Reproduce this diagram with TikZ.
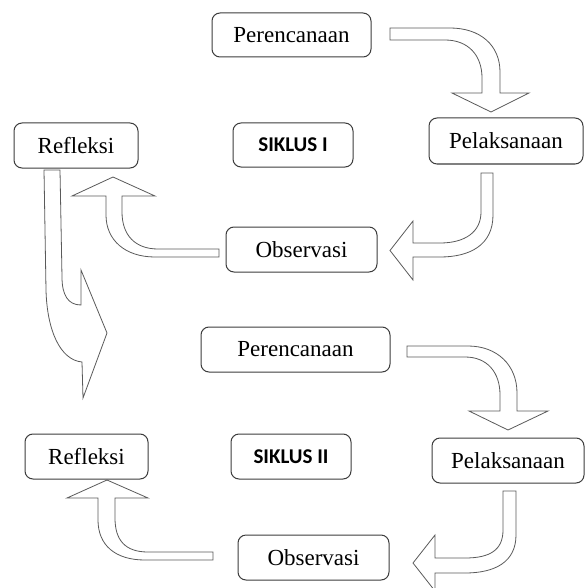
\documentclass[tikz,border=0pt]{standalone}
\usepackage{fontspec}
\setmainfont{Liberation Serif}
\newfontfamily\siklusfont{Carlito}
\definecolor{boxline}{HTML}{3C3C3C}
\definecolor{arrline}{HTML}{5A5A5A}
\begin{document}
\begin{tikzpicture}[x=1pt,y=-1pt,
  stage/.style={draw=boxline,line width=1pt,rounded corners=8pt,fill=white,
    inner sep=0pt,font=\fontsize{23}{27}\selectfont},
  cyc/.style={stage,font=\siklusfont\bfseries\fontsize{21}{25}\selectfont},
  blockarrow/.style={draw=arrline,line width=0.8pt,fill=white,line join=miter}]
\useasboundingbox (0,0) rectangle (587,588);
% ---- Siklus I ----
\node[stage,minimum width=159pt,minimum height=44pt] (p1) at (291.5,35) {Perencanaan};
\node[stage,minimum width=154pt,minimum height=46pt] (l1) at (506,141) {Pelaksanaan};
\node[cyc,minimum width=120pt,minimum height=44pt] (s1) at (293,145) {SIKLUS I};
\node[stage,minimum width=151pt,minimum height=45pt] (o1) at (301.5,249.5) {Observasi};
\node[stage,minimum width=124pt,minimum height=45pt] (r1) at (76,145.5) {Refleksi};
% ---- Siklus II ----
\node[stage,minimum width=189pt,minimum height=45pt] (p2) at (295.5,349.5) {Perencanaan};
\node[stage,minimum width=152pt,minimum height=45pt] (l2) at (508,460.5) {Pelaksanaan};
\node[cyc,minimum width=120pt,minimum height=45pt] (s2) at (291,456.5) {SIKLUS II};
\node[stage,minimum width=151pt,minimum height=45pt] (o2) at (313.5,557.5) {Observasi};
\node[stage,minimum width=123pt,minimum height=45pt] (r2) at (86.5,456.5) {Refleksi};
% ---- block arrows, cycle I ----
\draw[blockarrow] (390,28) -- (450,28) .. controls (480,28) and (500,45) .. (500,72)
  -- (500,93) -- (529,93) -- (491,112) -- (452,93) -- (482,93) -- (482,78)
  .. controls (482,55) and (468,40) .. (445,40) -- (390,40) -- cycle;
\draw[blockarrow] (481,173) -- (493,173) -- (493,215) .. controls (493,245) and (470,257) .. (440,257)
  -- (413,257) -- (413,280) -- (390,250.5) -- (413,221) -- (413,243) -- (440,243)
  .. controls (465,243) and (481,232) .. (481,212) -- cycle;
\draw[blockarrow] (219,249) -- (219,257) -- (155,257) .. controls (125,257) and (106,240) .. (106,215)
  -- (106,196) -- (72,196) -- (113,177) -- (155,196) -- (122,196) -- (122,212)
  .. controls (122,235) and (135,249) .. (158,249) -- cycle;
% ---- arrow from cycle I to cycle II ----
\draw[blockarrow] (44,170) -- (60,170) -- (62,277) .. controls (62,295) and (68,305) .. (81,305)
  -- (81,270) -- (107,333) -- (83,398) -- (82,362)
  .. controls (60,360) and (47,330) .. (46,290) -- cycle;
% ---- block arrows, cycle II ----
\draw[blockarrow] (407,346) -- (468,346) .. controls (497,346) and (517,365) .. (517,393)
  -- (517,411) -- (548,411) -- (508,430) -- (469,411) -- (500,411) -- (500,395)
  .. controls (500,372) and (487,357) .. (465,357) -- (407,357) -- cycle;
\draw[blockarrow] (503,491) -- (516,491) -- (516,535) .. controls (516,562) and (495,573) .. (465,573)
  -- (435,573) -- (435,591) -- (413,563) -- (435,535) -- (435,558) -- (465,558)
  .. controls (490,558) and (503,550) .. (503,530) -- cycle;
\draw[blockarrow] (213,552) -- (213,560) -- (145,560) .. controls (115,560) and (98,545) .. (98,520)
  -- (98,498) -- (67,498) -- (107,480) -- (148,498) -- (115,498) -- (115,518)
  .. controls (115,540) and (125,552) .. (148,552) -- cycle;
\end{tikzpicture}
\end{document}
